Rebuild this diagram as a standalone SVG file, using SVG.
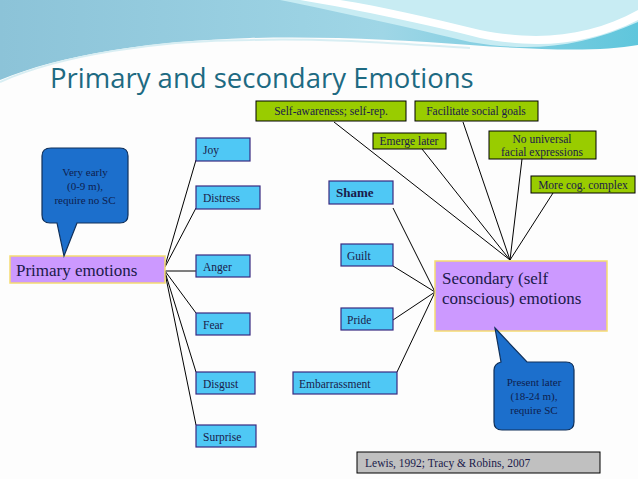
<svg xmlns="http://www.w3.org/2000/svg" width="638" height="479" viewBox="0 0 638 479">
<defs>
<linearGradient id="sky" x1="0" y1="0" x2="1" y2="0">
<stop offset="0" stop-color="#8cc3d8"/><stop offset="0.6" stop-color="#9fd6e6"/><stop offset="1" stop-color="#5fc6dc"/>
</linearGradient>
<style>
text{font-family:"Liberation Serif",serif;fill:#1a1a4a}
.c rect{fill:#4fc8f5;stroke:#3a2a80;stroke-width:1.2}
.g rect{fill:#99cc00;stroke:#000;stroke-width:1}
.p rect{fill:#cc99ff;stroke:#f5dc70;stroke-width:1.5}
.b path{fill:#1c6fcc;stroke:#10305a;stroke-width:1.2}
.b text{fill:#0e1e4e;font-size:11px;text-anchor:middle}
.s{font-size:11.5px}
#conn line{stroke:#000;stroke-width:1}
</style>
</defs>
<rect width="638" height="479" fill="#fdfdfd"/>
<path d="M0 0H638V45C600 52 540 50 470 45C400 40 330 36 250 38C150 41 60 55 0 80Z" fill="url(#sky)"/>
<path d="M280 0C340 12 420 30 470 42C530 52 580 48 638 22V0Z" fill="#c8ecf3"/>
<path d="M300 0C360 10 430 25 480 38C540 50 590 44 638 20V10C590 36 540 42 480 30C430 18 380 6 340 0Z" fill="#ffffff"/>
<path d="M0 82C60 55 160 40 250 40C330 38 400 44 470 48" fill="none" stroke="#d8eef3" stroke-width="2"/>
<text x="50" y="88" style="font-family:'Open Sans',sans-serif;font-size:27.5px;fill:#1d6a82">Primary and secondary Emotions</text>
<g id="conn">
<line x1="165" y1="266" x2="196" y2="160"/>
<line x1="165" y1="267" x2="196" y2="208"/>
<line x1="165" y1="271" x2="196" y2="271"/>
<line x1="165" y1="271" x2="196" y2="313"/>
<line x1="165" y1="272" x2="196" y2="372"/>
<line x1="165" y1="273" x2="196" y2="425"/>
<line x1="393" y1="208" x2="435" y2="292"/>
<line x1="393" y1="266" x2="435" y2="292"/>
<line x1="393" y1="320" x2="435" y2="292"/>
<line x1="397" y1="372" x2="435" y2="292"/>
<line x1="334" y1="122" x2="510" y2="260"/>
<line x1="463" y1="122" x2="510" y2="260"/>
<line x1="422" y1="149" x2="510" y2="260"/>
<line x1="522" y1="159" x2="510" y2="260"/>
<line x1="553" y1="193" x2="510" y2="260"/>
</g>
<g id="primary" class="p"><rect x="10" y="256" width="155" height="27"/><text x="16" y="276" style="font-size:17px">Primary emotions</text></g>
<g id="secondary" class="p"><rect x="435" y="261" width="172" height="70"/><text x="442" y="284" style="font-size:17px">Secondary (self</text><text x="442" y="304" style="font-size:17px">conscious) emotions</text></g>
<g id="callout1" class="b"><path d="M51 148H120Q128 148 128 156V215Q128 223 120 223H77L64 256L57 223H50Q42 223 42 215V156Q42 148 51 148Z"/><text x="85" y="176">Very early</text><text x="85" y="190">(0-9 m),</text><text x="85" y="204">require no SC</text></g>
<g id="callout2" class="b"><path d="M495 328L527 362H566Q574 362 574 370V422Q574 430 566 430H502Q494 430 494 422V370Q494 364 501 362Z"/><text x="534" y="386">Present later</text><text x="534" y="400">(18-24 m),</text><text x="534" y="414">require SC</text></g>
<g id="joy" class="c"><rect x="196" y="138" width="54" height="23"/><text x="203" y="154" class="s">Joy</text></g>
<g id="distress" class="c"><rect x="196" y="186" width="64" height="23"/><text x="203" y="202" class="s">Distress</text></g>
<g id="anger" class="c"><rect x="196" y="255" width="54" height="22"/><text x="203" y="271" class="s">Anger</text></g>
<g id="fear" class="c"><rect x="196" y="313" width="54" height="22"/><text x="203" y="329" class="s">Fear</text></g>
<g id="disgust" class="c"><rect x="196" y="372" width="59" height="22"/><text x="203" y="388" class="s">Disgust</text></g>
<g id="surprise" class="c"><rect x="196" y="425" width="60" height="22"/><text x="203" y="441" class="s">Surprise</text></g>
<g id="shame" class="c"><rect x="329" y="181" width="64" height="23"/><text x="336" y="197" style="font-size:13px;font-weight:bold">Shame</text></g>
<g id="guilt" class="c"><rect x="341" y="244" width="52" height="22"/><text x="347" y="260" class="s">Guilt</text></g>
<g id="pride" class="c"><rect x="341" y="308" width="52" height="22"/><text x="347" y="324" class="s">Pride</text></g>
<g id="embarrassment" class="c"><rect x="293" y="372" width="104" height="22"/><text x="299" y="388" class="s">Embarrassment</text></g>
<g id="selfaware" class="g"><rect x="256" y="101" width="150" height="20"/><text x="331" y="115" class="s" text-anchor="middle">Self-awareness; self-rep.</text></g>
<g id="facilitate" class="g"><rect x="415" y="101" width="123" height="20"/><text x="476" y="115" class="s" text-anchor="middle">Facilitate social goals</text></g>
<g id="emerge" class="g"><rect x="373" y="133" width="73" height="16"/><text x="409" y="145" class="s" text-anchor="middle">Emerge later</text></g>
<g id="nouniv" class="g"><rect x="489" y="131" width="107" height="28"/><text x="542" y="143" class="s" text-anchor="middle">No universal</text><text x="542" y="156" class="s" text-anchor="middle">facial expressions</text></g>
<g id="cog" class="g"><rect x="531" y="176" width="104" height="17"/><text x="583" y="189" class="s" text-anchor="middle">More cog. complex</text></g>
<g id="ref"><rect x="357" y="452" width="243" height="21" fill="#c0c0c0" stroke="#000"/><text x="365" y="467" class="s">Lewis, 1992; Tracy &amp; Robins, 2007</text></g>
</svg>
